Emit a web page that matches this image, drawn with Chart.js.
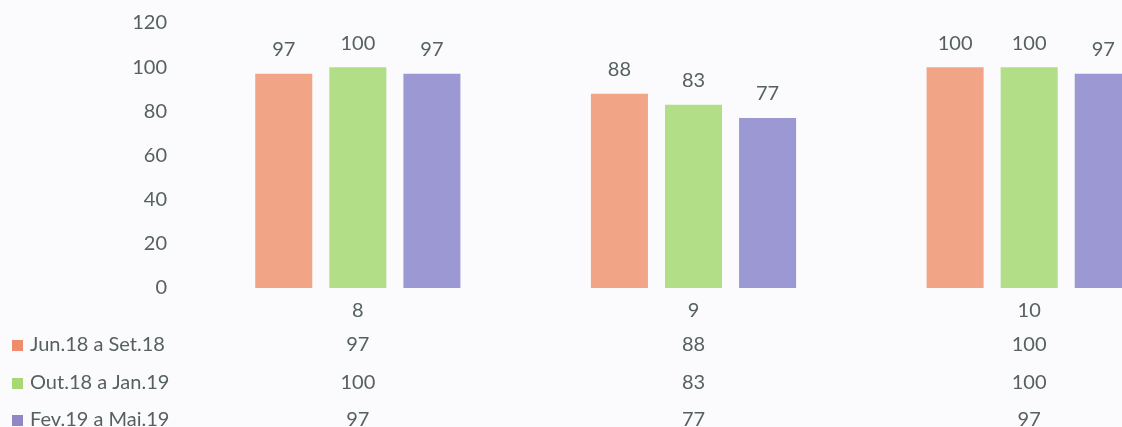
<!DOCTYPE html>
<html><head><meta charset="utf-8">
<script src="https://cdn.jsdelivr.net/npm/chart.js@4.4.1/dist/chart.umd.min.js"></script>
<style>
html,body{margin:0;padding:0;background:#fbfbfd;overflow:hidden;width:1122px;height:427px;}
canvas{position:absolute;left:0;top:0;}
</style></head><body>
<canvas id="c" width="1200" height="427"></canvas>
<script>
// Categories and the three period series
const categories = ['8', '9', '10'];
const seriesNames = ['Jun.18 a Set.18', 'Out.18 a Jan.19', 'Fev.19 a Mai.19'];
const junSet = [97, 88, 100];
const outJan = [100, 83, 100];
const fevMai = [97, 77, 97];
const yTicks = [0, 20, 40, 60, 80, 100, 120];

const barColors = ['#f2a486', '#b2de88', '#9c98d4'];
const keyColors = ['#ef8c6c', '#a9d872', '#9286c4'];
const textColor = '#56615f';
const fontFamily = 'Lato, "Open Sans", sans-serif';
const fontSize = 20;

const seriesValues = [junSet, outJan, fevMai];

// Value labels above bars plus the data table under the axis
const tablePlugin = {
  id: 'valueTable',
  afterDatasetsDraw(chart) {
    const ctx = chart.ctx;
    ctx.save();
    ctx.font = fontSize + 'px ' + fontFamily;
    ctx.fillStyle = textColor;
    ctx.textAlign = 'center';
    ctx.textBaseline = 'middle';
    chart.data.datasets.forEach((ds, di) => {
      chart.getDatasetMeta(di).data.forEach((bar, i) => {
        ctx.fillText(String(ds.data[i]), bar.x, bar.y - 24);
      });
    });

    const xs = chart.scales.x;
    const base = chart.chartArea.bottom;
    const rowOffsets = [57, 95, 132];
    seriesNames.forEach((name, r) => {
      const y = base + rowOffsets[r];
      ctx.fillStyle = keyColors[r];
      ctx.fillRect(12, y - 5, 11, 11);
      ctx.fillStyle = textColor;
      ctx.textAlign = 'left';
      ctx.fillText(name, 30, y);
      ctx.textAlign = 'center';
      seriesValues[r].forEach((v, i) => {
        ctx.fillText(String(v), xs.getPixelForValue(i), y);
      });
    });
    ctx.restore();
  }
};

new Chart(document.getElementById('c'), {
  type: 'bar',
  data: {
    labels: categories,
    datasets: seriesNames.map((name, i) => ({
      label: name,
      data: seriesValues[i],
      backgroundColor: barColors[i],
      borderWidth: 0,
      categoryPercentage: 0.662,
      barPercentage: 0.77
    }))
  },
  options: {
    responsive: false,
    animation: false,
    layout: { padding: { left: 0, top: 23, right: 3, bottom: 93 } },
    plugins: { legend: { display: false }, tooltip: { enabled: false } },
    scales: {
      x: {
        grid: { display: false, drawTicks: false },
        border: { display: false },
        ticks: { color: textColor, font: { family: fontFamily, size: fontSize }, padding: 11 }
      },
      y: {
        min: 0,
        max: 120,
        afterFit(scale) {
          scale.width = 190;
          scale.paddingTop = 0;
          scale.paddingBottom = 0;
        },
        afterBuildTicks(scale) { scale.ticks = yTicks.map(v => ({ value: v })); },
        grid: { display: false, drawTicks: false },
        border: { display: false },
        ticks: { color: textColor, font: { family: fontFamily, size: fontSize }, padding: 23 }
      }
    }
  },
  plugins: [tablePlugin]
});
</script>
</body></html>
